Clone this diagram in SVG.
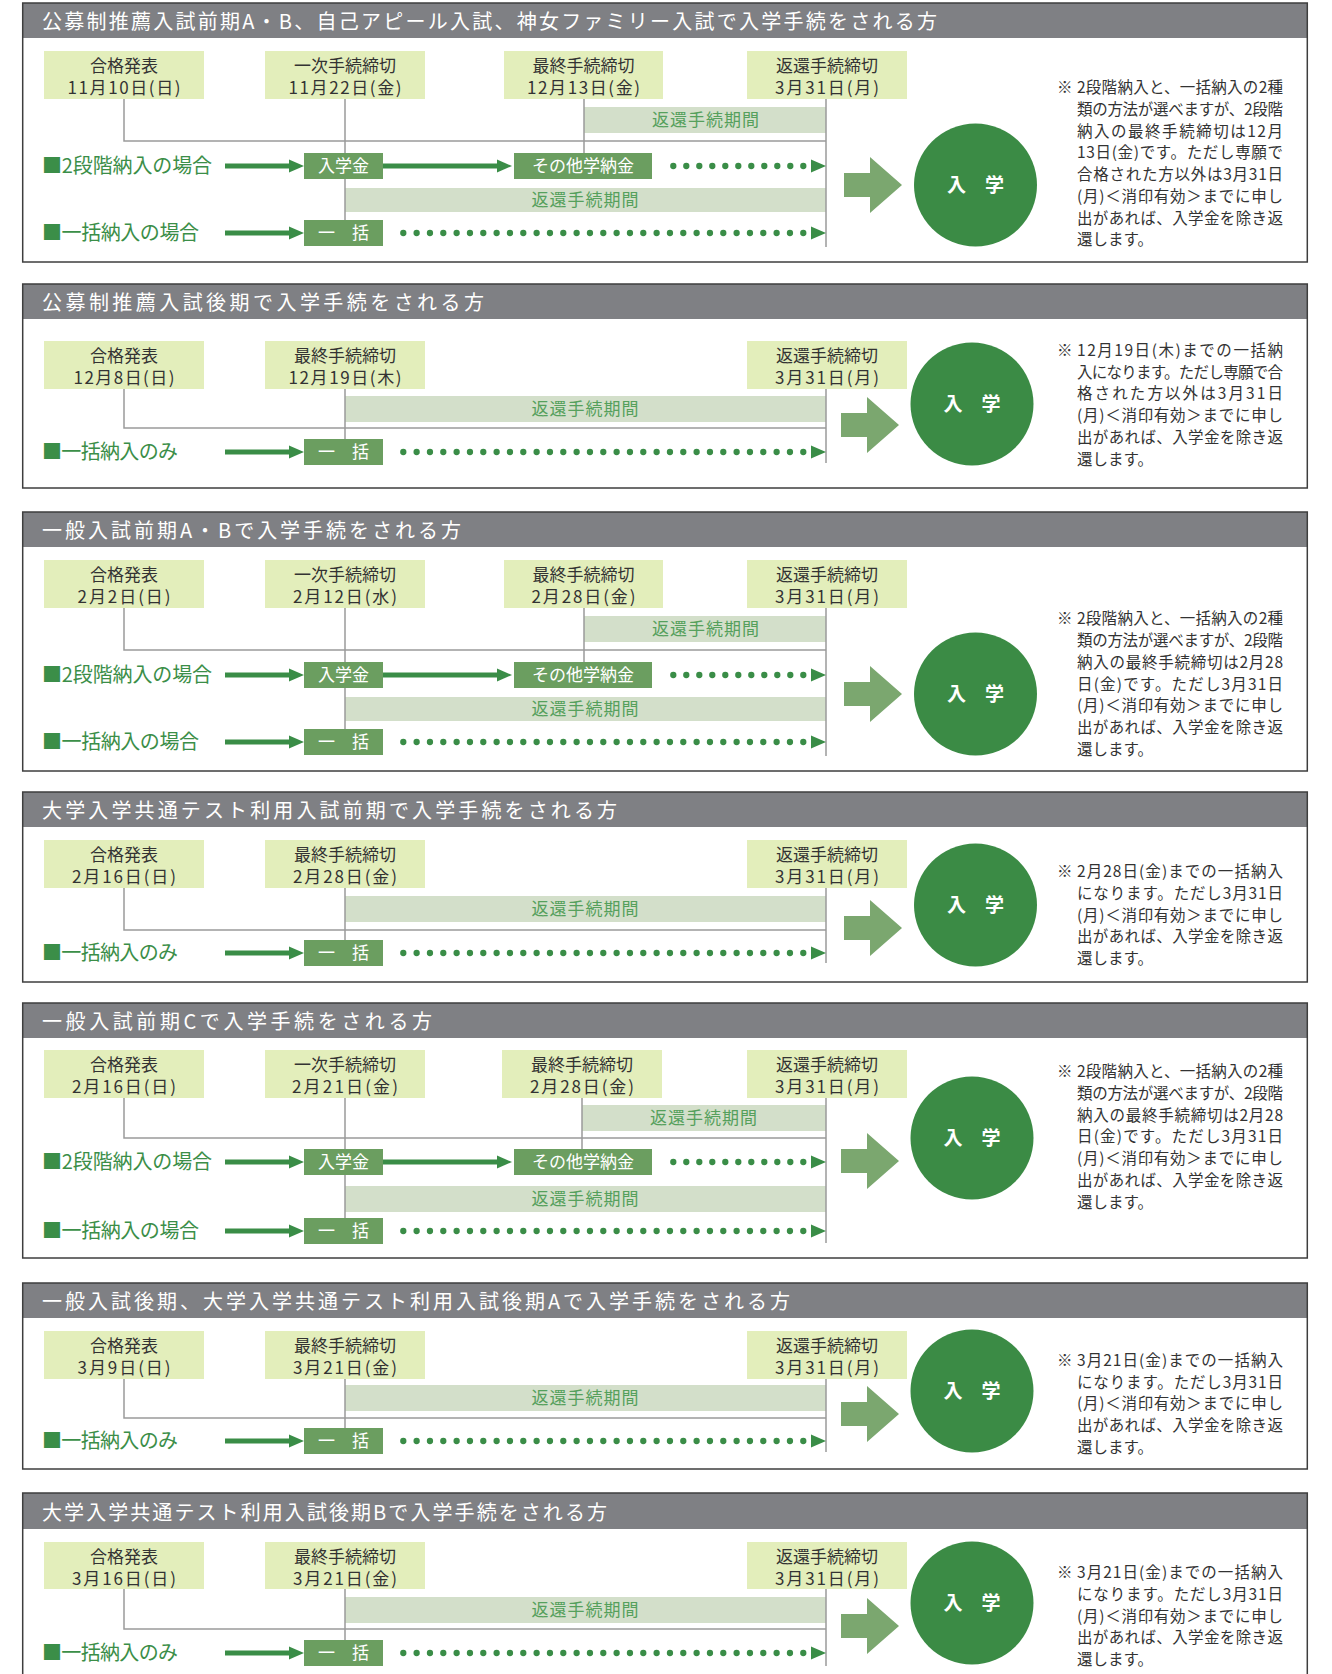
<svg xmlns="http://www.w3.org/2000/svg" width="1332" height="1674" viewBox="0 0 1332 1674">
<style>
text{font-family:"Noto Sans CJK JP","Noto Sans",sans-serif}
.frame{fill:none;stroke:#3e3e3e;stroke-width:1.5}
.hdr{fill:#7f8084}
.ht{font-size:20px;fill:#fff}
.db{fill:#e3eebb}
.dt{font-size:17px;fill:#333;text-anchor:middle}
.rb{fill:#d3dfca}
.rt{font-size:17px;fill:#55a05c;text-anchor:middle;letter-spacing:1px}
.gb{fill:#6b9e60}
.gt{font-size:17px;fill:#fff;text-anchor:middle}
.rl{font-size:20px;fill:#3b8e48}
.ln{stroke:#9b9b9b;stroke-width:1.5;fill:none}
.ar{stroke:#3a8d47;stroke-width:5;fill:none}
.dots{stroke:#3a8d47;stroke-width:6.3;stroke-linecap:round;fill:none}
.tri{fill:#3a8d47}
.ba{fill:#7ba76f}
.cir{fill:#3b8b45}
.ct{font-size:19px;font-weight:bold;fill:#fff;text-anchor:middle}
.nt{font-size:15.5px;fill:#333}
</style>
<defs>
<path id="tri" d="M0,-6.5 L15,0 L0,6.5 Z"/>
<path id="bar" d="M0,-12 H26 V-28 L58,0 L26,28 V12 H0 Z"/>
</defs>

<!-- ===== Panel 1 ===== -->
<g id="panel1">
<rect class="hdr" x="22.7" y="3" width="1284.6" height="35"/>
<text class="ht" x="42" y="28.5" textLength="895">公募制推薦入試前期A・B、自己アピール入試、神女ファミリー入試で入学手続をされる方</text>
<rect class="rb" x="584" y="107" width="242" height="26"/>
<text class="rt" x="706" y="126">返還手続期間</text>
<rect class="rb" x="345" y="188" width="481" height="24"/>
<text class="rt" x="585.5" y="206">返還手続期間</text>
<g id="p1-connectors">
<path class="ln" d="M124,99 V141 H826 M345,99 V221 M584,99 V153 M826,99 V247"/>
<line class="ar" x1="225" y1="166" x2="290" y2="166"/><use href="#tri" class="tri" x="289" y="166"/>
<line class="ar" x1="383" y1="166" x2="498" y2="166"/><use href="#tri" class="tri" x="497" y="166"/>
<line class="dots" stroke-dasharray="0 13" x1="673.3" y1="166" x2="803.5" y2="166"/><use href="#tri" class="tri" x="811" y="166"/>
<line class="ar" x1="225" y1="233" x2="290" y2="233"/><use href="#tri" class="tri" x="289" y="233"/>
<line class="dots" stroke-dasharray="0 13.333" x1="403.3" y1="233" x2="803.5" y2="233"/><use href="#tri" class="tri" x="811" y="233"/>
<use href="#bar" class="ba" x="844" y="185"/>
</g>
<g id="p1-happyo"><rect class="db" x="44" y="51" width="160" height="48"/><text class="dt" x="124" y="71.5">合格発表</text><text class="dt" x="124" y="94" textLength="113">11月10日(日)</text></g>
<g id="p1-ichiji"><rect class="db" x="265" y="51" width="160" height="48"/><text class="dt" x="345" y="71.5">一次手続締切</text><text class="dt" x="345" y="94" textLength="113">11月22日(金)</text></g>
<g id="p1-saishu"><rect class="db" x="504" y="51" width="159" height="48"/><text class="dt" x="583.5" y="71.5">最終手続締切</text><text class="dt" x="583.5" y="94" textLength="113">12月13日(金)</text></g>
<g id="p1-henkan"><rect class="db" x="747" y="51" width="160" height="48"/><text class="dt" x="827" y="71.5">返還手続締切</text><text class="dt" x="827" y="94" textLength="104">3月31日(月)</text></g>
<text class="rl" x="42" y="173" textLength="170">■2段階納入の場合</text>
<text class="rl" x="42" y="240" textLength="157">■一括納入の場合</text>
<g id="p1-nyugakukin"><rect class="gb" x="304" y="153" width="79" height="26"/><text class="gt" x="343.5" y="172">入学金</text></g>
<g id="p1-sonota"><rect class="gb" x="514" y="153" width="138" height="26"/><text class="gt" x="583" y="172">その他学納金</text></g>
<g id="p1-ikkatsu"><rect class="gb" x="304" y="220" width="79" height="26"/><text class="gt" x="343.5" y="239">一　括</text></g>
<g id="p1-nyugaku"><circle class="cir" cx="975.5" cy="185" r="61.5"/><text class="ct" x="975.5" y="192">入　学</text></g>
<g id="p1-note">
<text class="nt" x="1057" y="93.3">※</text>
<text class="nt" x="1077" y="93.3" textLength="206">2段階納入と、一括納入の2種</text>
<text class="nt" x="1077" y="115" textLength="206">類の方法が選べますが、2段階</text>
<text class="nt" x="1077" y="136.7" textLength="206">納入の最終手続締切は12月</text>
<text class="nt" x="1077" y="158.4" textLength="206">13日(金)です。ただし専願で</text>
<text class="nt" x="1077" y="180.1" textLength="206">合格された方以外は3月31日</text>
<text class="nt" x="1077" y="201.8" textLength="206">(月)＜消印有効＞までに申し</text>
<text class="nt" x="1077" y="223.5" textLength="206">出があれば、入学金を除き返</text>
<text class="nt" x="1077" y="245.2">還します。</text>
</g>
<rect class="frame" x="22.7" y="3" width="1284.6" height="259"/>
</g>

<!-- ===== Panel 2 ===== -->
<g id="panel2">
<rect class="hdr" x="22.7" y="284" width="1284.6" height="35"/>
<text class="ht" x="42" y="310" textLength="442">公募制推薦入試後期で入学手続をされる方</text>
<rect class="rb" x="345" y="396" width="481" height="26"/>
<text class="rt" x="585.5" y="415">返還手続期間</text>
<g id="p2-connectors">
<path class="ln" d="M124,389 V428 H826 M345,389 V439 M826,389 V463"/>
<line class="ar" x1="225" y1="452" x2="290" y2="452"/><use href="#tri" class="tri" x="289" y="452"/>
<line class="dots" stroke-dasharray="0 13.333" x1="403.3" y1="452" x2="803.5" y2="452"/><use href="#tri" class="tri" x="811" y="452"/>
<use href="#bar" class="ba" x="841" y="425"/>
</g>
<g id="p2-happyo"><rect class="db" x="44" y="341" width="160" height="48"/><text class="dt" x="124" y="361.5">合格発表</text><text class="dt" x="124" y="384" textLength="101">12月8日(日)</text></g>
<g id="p2-saishu"><rect class="db" x="265" y="341" width="160" height="48"/><text class="dt" x="345" y="361.5">最終手続締切</text><text class="dt" x="345" y="384" textLength="113">12月19日(木)</text></g>
<g id="p2-henkan"><rect class="db" x="747" y="341" width="160" height="48"/><text class="dt" x="827" y="361.5">返還手続締切</text><text class="dt" x="827" y="384" textLength="104">3月31日(月)</text></g>
<text class="rl" x="42" y="459" textLength="136">■一括納入のみ</text>
<g id="p2-ikkatsu"><rect class="gb" x="304" y="439" width="79" height="26"/><text class="gt" x="343.5" y="458">一　括</text></g>
<g id="p2-nyugaku"><circle class="cir" cx="972" cy="404" r="61.5"/><text class="ct" x="972" y="411">入　学</text></g>
<g id="p2-note">
<text class="nt" x="1057" y="356">※</text>
<text class="nt" x="1077" y="356" textLength="206">12月19日(木)までの一括納</text>
<text class="nt" x="1077" y="377.7" textLength="206">入になります。ただし専願で合</text>
<text class="nt" x="1077" y="399.4" textLength="206">格された方以外は3月31日</text>
<text class="nt" x="1077" y="421.1" textLength="206">(月)＜消印有効＞までに申し</text>
<text class="nt" x="1077" y="442.8" textLength="206">出があれば、入学金を除き返</text>
<text class="nt" x="1077" y="464.5">還します。</text>
</g>
<rect class="frame" x="22.7" y="284" width="1284.6" height="204"/>
</g>

<!-- ===== Panel 3 ===== -->
<g id="panel3">
<rect class="hdr" x="22.7" y="512" width="1284.6" height="35"/>
<text class="ht" x="42" y="537.5" textLength="419">一般入試前期A・Bで入学手続をされる方</text>
<rect class="rb" x="584" y="616" width="242" height="26"/>
<text class="rt" x="706" y="635">返還手続期間</text>
<rect class="rb" x="345" y="697" width="481" height="24"/>
<text class="rt" x="585.5" y="715">返還手続期間</text>
<g id="p3-connectors">
<path class="ln" d="M124,608 V650 H826 M345,608 V730 M584,608 V662 M826,608 V756"/>
<line class="ar" x1="225" y1="675" x2="290" y2="675"/><use href="#tri" class="tri" x="289" y="675"/>
<line class="ar" x1="383" y1="675" x2="498" y2="675"/><use href="#tri" class="tri" x="497" y="675"/>
<line class="dots" stroke-dasharray="0 13" x1="673.3" y1="675" x2="803.5" y2="675"/><use href="#tri" class="tri" x="811" y="675"/>
<line class="ar" x1="225" y1="742" x2="290" y2="742"/><use href="#tri" class="tri" x="289" y="742"/>
<line class="dots" stroke-dasharray="0 13.333" x1="403.3" y1="742" x2="803.5" y2="742"/><use href="#tri" class="tri" x="811" y="742"/>
<use href="#bar" class="ba" x="844" y="694"/>
</g>
<g id="p3-happyo"><rect class="db" x="44" y="560" width="160" height="48"/><text class="dt" x="124" y="580.5">合格発表</text><text class="dt" x="124" y="603" textLength="93">2月2日(日)</text></g>
<g id="p3-ichiji"><rect class="db" x="265" y="560" width="160" height="48"/><text class="dt" x="345" y="580.5">一次手続締切</text><text class="dt" x="345" y="603" textLength="104">2月12日(水)</text></g>
<g id="p3-saishu"><rect class="db" x="504" y="560" width="159" height="48"/><text class="dt" x="583.5" y="580.5">最終手続締切</text><text class="dt" x="583.5" y="603" textLength="104">2月28日(金)</text></g>
<g id="p3-henkan"><rect class="db" x="747" y="560" width="160" height="48"/><text class="dt" x="827" y="580.5">返還手続締切</text><text class="dt" x="827" y="603" textLength="104">3月31日(月)</text></g>
<text class="rl" x="42" y="682" textLength="170">■2段階納入の場合</text>
<text class="rl" x="42" y="749" textLength="157">■一括納入の場合</text>
<g id="p3-nyugakukin"><rect class="gb" x="304" y="662" width="79" height="26"/><text class="gt" x="343.5" y="681">入学金</text></g>
<g id="p3-sonota"><rect class="gb" x="514" y="662" width="138" height="26"/><text class="gt" x="583" y="681">その他学納金</text></g>
<g id="p3-ikkatsu"><rect class="gb" x="304" y="729" width="79" height="26"/><text class="gt" x="343.5" y="748">一　括</text></g>
<g id="p3-nyugaku"><circle class="cir" cx="975.5" cy="694" r="61.5"/><text class="ct" x="975.5" y="701">入　学</text></g>
<g id="p3-note">
<text class="nt" x="1057" y="624.4">※</text>
<text class="nt" x="1077" y="624.4" textLength="206">2段階納入と、一括納入の2種</text>
<text class="nt" x="1077" y="646.1" textLength="206">類の方法が選べますが、2段階</text>
<text class="nt" x="1077" y="667.8" textLength="206">納入の最終手続締切は2月28</text>
<text class="nt" x="1077" y="689.5" textLength="206">日(金)です。ただし3月31日</text>
<text class="nt" x="1077" y="711.2" textLength="206">(月)＜消印有効＞までに申し</text>
<text class="nt" x="1077" y="732.9" textLength="206">出があれば、入学金を除き返</text>
<text class="nt" x="1077" y="754.6">還します。</text>
</g>
<rect class="frame" x="22.7" y="512" width="1284.6" height="259"/>
</g>

<!-- ===== Panel 4 ===== -->
<g id="panel4">
<rect class="hdr" x="22.7" y="792" width="1284.6" height="35"/>
<text class="ht" x="42" y="817.5" textLength="575">大学入学共通テスト利用入試前期で入学手続をされる方</text>
<rect class="rb" x="345" y="896" width="481" height="26"/>
<text class="rt" x="585.5" y="915">返還手続期間</text>
<g id="p4-connectors">
<path class="ln" d="M124,888 V930 H826 M345,888 V940 M826,888 V963"/>
<line class="ar" x1="225" y1="953" x2="290" y2="953"/><use href="#tri" class="tri" x="289" y="953"/>
<line class="dots" stroke-dasharray="0 13.333" x1="403.3" y1="953" x2="803.5" y2="953"/><use href="#tri" class="tri" x="811" y="953"/>
<use href="#bar" class="ba" x="844" y="928"/>
</g>
<g id="p4-happyo"><rect class="db" x="44" y="840" width="160" height="48"/><text class="dt" x="124" y="860.5">合格発表</text><text class="dt" x="124" y="883" textLength="104">2月16日(日)</text></g>
<g id="p4-saishu"><rect class="db" x="265" y="840" width="160" height="48"/><text class="dt" x="345" y="860.5">最終手続締切</text><text class="dt" x="345" y="883" textLength="104">2月28日(金)</text></g>
<g id="p4-henkan"><rect class="db" x="747" y="840" width="160" height="48"/><text class="dt" x="827" y="860.5">返還手続締切</text><text class="dt" x="827" y="883" textLength="104">3月31日(月)</text></g>
<text class="rl" x="42" y="960" textLength="136">■一括納入のみ</text>
<g id="p4-ikkatsu"><rect class="gb" x="304" y="940" width="79" height="26"/><text class="gt" x="343.5" y="959">一　括</text></g>
<g id="p4-nyugaku"><circle class="cir" cx="975.5" cy="905" r="61.5"/><text class="ct" x="975.5" y="912">入　学</text></g>
<g id="p4-note">
<text class="nt" x="1057" y="877.3">※</text>
<text class="nt" x="1077" y="877.3" textLength="206">2月28日(金)までの一括納入</text>
<text class="nt" x="1077" y="899" textLength="206">になります。ただし3月31日</text>
<text class="nt" x="1077" y="920.7" textLength="206">(月)＜消印有効＞までに申し</text>
<text class="nt" x="1077" y="942.4" textLength="206">出があれば、入学金を除き返</text>
<text class="nt" x="1077" y="964.1">還します。</text>
</g>
<rect class="frame" x="22.7" y="792" width="1284.6" height="190"/>
</g>

<!-- ===== Panel 5 ===== -->
<g id="panel5">
<rect class="hdr" x="22.7" y="1003" width="1284.6" height="35"/>
<text class="ht" x="42" y="1028.5" textLength="390">一般入試前期Cで入学手続をされる方</text>
<rect class="rb" x="582" y="1105" width="244" height="26"/>
<text class="rt" x="704" y="1124">返還手続期間</text>
<rect class="rb" x="345" y="1186" width="481" height="26"/>
<text class="rt" x="585.5" y="1205">返還手続期間</text>
<g id="p5-connectors">
<path class="ln" d="M124,1098 V1138 H826 M345,1098 V1218 M582,1098 V1149 M826,1098 V1243"/>
<line class="ar" x1="225" y1="1162" x2="290" y2="1162"/><use href="#tri" class="tri" x="289" y="1162"/>
<line class="ar" x1="383" y1="1162" x2="498" y2="1162"/><use href="#tri" class="tri" x="497" y="1162"/>
<line class="dots" stroke-dasharray="0 13" x1="673.3" y1="1162" x2="803.5" y2="1162"/><use href="#tri" class="tri" x="811" y="1162"/>
<line class="ar" x1="225" y1="1231" x2="290" y2="1231"/><use href="#tri" class="tri" x="289" y="1231"/>
<line class="dots" stroke-dasharray="0 13.333" x1="403.3" y1="1231" x2="803.5" y2="1231"/><use href="#tri" class="tri" x="811" y="1231"/>
<use href="#bar" class="ba" x="841" y="1161"/>
</g>
<g id="p5-happyo"><rect class="db" x="44" y="1050" width="160" height="48"/><text class="dt" x="124" y="1070.5">合格発表</text><text class="dt" x="124" y="1093" textLength="104">2月16日(日)</text></g>
<g id="p5-ichiji"><rect class="db" x="265" y="1050" width="160" height="48"/><text class="dt" x="345" y="1070.5">一次手続締切</text><text class="dt" x="345" y="1093" textLength="106">2月21日(金)</text></g>
<g id="p5-saishu"><rect class="db" x="502" y="1050" width="160" height="48"/><text class="dt" x="582" y="1070.5">最終手続締切</text><text class="dt" x="582" y="1093" textLength="104">2月28日(金)</text></g>
<g id="p5-henkan"><rect class="db" x="747" y="1050" width="160" height="48"/><text class="dt" x="827" y="1070.5">返還手続締切</text><text class="dt" x="827" y="1093" textLength="104">3月31日(月)</text></g>
<text class="rl" x="42" y="1169" textLength="170">■2段階納入の場合</text>
<text class="rl" x="42" y="1238" textLength="157">■一括納入の場合</text>
<g id="p5-nyugakukin"><rect class="gb" x="304" y="1149" width="79" height="26"/><text class="gt" x="343.5" y="1168">入学金</text></g>
<g id="p5-sonota"><rect class="gb" x="514" y="1149" width="138" height="26"/><text class="gt" x="583" y="1168">その他学納金</text></g>
<g id="p5-ikkatsu"><rect class="gb" x="304" y="1218" width="79" height="26"/><text class="gt" x="343.5" y="1237">一　括</text></g>
<g id="p5-nyugaku"><circle class="cir" cx="972" cy="1138" r="61.5"/><text class="ct" x="972" y="1145">入　学</text></g>
<g id="p5-note">
<text class="nt" x="1057" y="1077.3">※</text>
<text class="nt" x="1077" y="1077.3" textLength="206">2段階納入と、一括納入の2種</text>
<text class="nt" x="1077" y="1099" textLength="206">類の方法が選べますが、2段階</text>
<text class="nt" x="1077" y="1120.7" textLength="206">納入の最終手続締切は2月28</text>
<text class="nt" x="1077" y="1142.4" textLength="206">日(金)です。ただし3月31日</text>
<text class="nt" x="1077" y="1164.1" textLength="206">(月)＜消印有効＞までに申し</text>
<text class="nt" x="1077" y="1185.8" textLength="206">出があれば、入学金を除き返</text>
<text class="nt" x="1077" y="1207.5">還します。</text>
</g>
<rect class="frame" x="22.7" y="1003" width="1284.6" height="255"/>
</g>

<!-- ===== Panel 6 ===== -->
<g id="panel6">
<rect class="hdr" x="22.7" y="1283" width="1284.6" height="35"/>
<text class="ht" x="42" y="1308.5" textLength="748">一般入試後期、大学入学共通テスト利用入試後期Aで入学手続をされる方</text>
<rect class="rb" x="345" y="1385" width="481" height="26"/>
<text class="rt" x="585.5" y="1404">返還手続期間</text>
<g id="p6-connectors">
<path class="ln" d="M124,1379 V1418 H826 M345,1379 V1428 M826,1379 V1452"/>
<line class="ar" x1="225" y1="1441" x2="290" y2="1441"/><use href="#tri" class="tri" x="289" y="1441"/>
<line class="dots" stroke-dasharray="0 13.333" x1="403.3" y1="1441" x2="803.5" y2="1441"/><use href="#tri" class="tri" x="811" y="1441"/>
<use href="#bar" class="ba" x="841" y="1414"/>
</g>
<g id="p6-happyo"><rect class="db" x="44" y="1331" width="160" height="48"/><text class="dt" x="124" y="1351.5">合格発表</text><text class="dt" x="124" y="1374" textLength="93">3月9日(日)</text></g>
<g id="p6-saishu"><rect class="db" x="265" y="1331" width="160" height="48"/><text class="dt" x="345" y="1351.5">最終手続締切</text><text class="dt" x="345" y="1374" textLength="104">3月21日(金)</text></g>
<g id="p6-henkan"><rect class="db" x="747" y="1331" width="160" height="48"/><text class="dt" x="827" y="1351.5">返還手続締切</text><text class="dt" x="827" y="1374" textLength="104">3月31日(月)</text></g>
<text class="rl" x="42" y="1448" textLength="136">■一括納入のみ</text>
<g id="p6-ikkatsu"><rect class="gb" x="304" y="1428" width="79" height="26"/><text class="gt" x="343.5" y="1447">一　括</text></g>
<g id="p6-nyugaku"><circle class="cir" cx="972" cy="1391" r="61.5"/><text class="ct" x="972" y="1398">入　学</text></g>
<g id="p6-note">
<text class="nt" x="1057" y="1366">※</text>
<text class="nt" x="1077" y="1366" textLength="206">3月21日(金)までの一括納入</text>
<text class="nt" x="1077" y="1387.7" textLength="206">になります。ただし3月31日</text>
<text class="nt" x="1077" y="1409.4" textLength="206">(月)＜消印有効＞までに申し</text>
<text class="nt" x="1077" y="1431.1" textLength="206">出があれば、入学金を除き返</text>
<text class="nt" x="1077" y="1452.8">還します。</text>
</g>
<rect class="frame" x="22.7" y="1283" width="1284.6" height="186"/>
</g>

<!-- ===== Panel 7 ===== -->
<g id="panel7">
<rect class="hdr" x="22.7" y="1493" width="1284.6" height="36"/>
<text class="ht" x="42" y="1519.5" textLength="565">大学入学共通テスト利用入試後期Bで入学手続をされる方</text>
<rect class="rb" x="345" y="1597" width="481" height="26"/>
<text class="rt" x="585.5" y="1616">返還手続期間</text>
<g id="p7-connectors">
<path class="ln" d="M124,1589 V1629 H826 M345,1589 V1640 M826,1589 V1666"/>
<line class="ar" x1="225" y1="1653" x2="290" y2="1653"/><use href="#tri" class="tri" x="289" y="1653"/>
<line class="dots" stroke-dasharray="0 13.333" x1="403.3" y1="1653" x2="803.5" y2="1653"/><use href="#tri" class="tri" x="811" y="1653"/>
<use href="#bar" class="ba" x="841" y="1626"/>
</g>
<g id="p7-happyo"><rect class="db" x="44" y="1542" width="160" height="47"/><text class="dt" x="124" y="1562.5">合格発表</text><text class="dt" x="124" y="1585" textLength="104">3月16日(日)</text></g>
<g id="p7-saishu"><rect class="db" x="265" y="1542" width="160" height="47"/><text class="dt" x="345" y="1562.5">最終手続締切</text><text class="dt" x="345" y="1585" textLength="104">3月21日(金)</text></g>
<g id="p7-henkan"><rect class="db" x="747" y="1542" width="160" height="47"/><text class="dt" x="827" y="1562.5">返還手続締切</text><text class="dt" x="827" y="1585" textLength="104">3月31日(月)</text></g>
<text class="rl" x="42" y="1660" textLength="136">■一括納入のみ</text>
<g id="p7-ikkatsu"><rect class="gb" x="304" y="1640" width="79" height="26"/><text class="gt" x="343.5" y="1659">一　括</text></g>
<g id="p7-nyugaku"><circle class="cir" cx="972" cy="1603" r="61.5"/><text class="ct" x="972" y="1610">入　学</text></g>
<g id="p7-note">
<text class="nt" x="1057" y="1578.3">※</text>
<text class="nt" x="1077" y="1578.3" textLength="206">3月21日(金)までの一括納入</text>
<text class="nt" x="1077" y="1600" textLength="206">になります。ただし3月31日</text>
<text class="nt" x="1077" y="1621.7" textLength="206">(月)＜消印有効＞までに申し</text>
<text class="nt" x="1077" y="1643.4" textLength="206">出があれば、入学金を除き返</text>
<text class="nt" x="1077" y="1665.1">還します。</text>
</g>
<rect class="frame" x="22.7" y="1493" width="1284.6" height="220"/>
</g>
</svg>
